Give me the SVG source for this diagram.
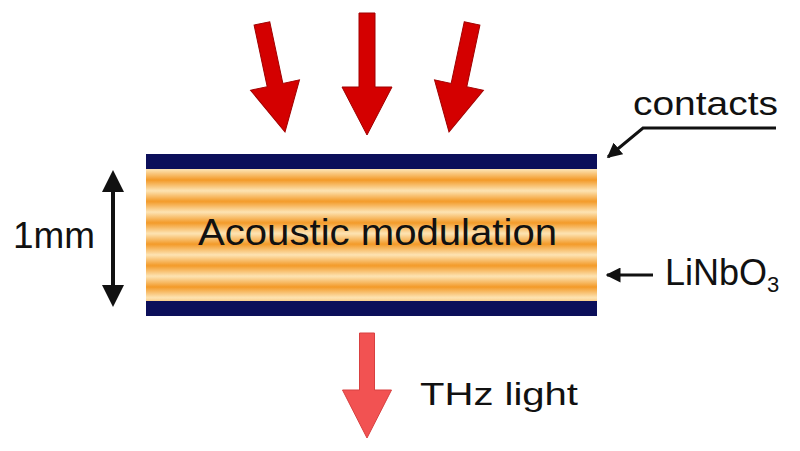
<svg xmlns="http://www.w3.org/2000/svg" width="800" height="451" viewBox="0 0 800 451">
<style>
text{font-family:"Liberation Sans",Arial,sans-serif;fill:#111}
.red{fill:#d40000;stroke:#a00000;stroke-width:1}
.pink{fill:#f25252;stroke:#d84040;stroke-width:1}
.bar{fill:#0c0f5a}
.lead{fill:none;stroke:#111;stroke-width:3}
.head{fill:#111}
</style>
<defs>
<linearGradient id="sg" x1="0" y1="0" x2="0" y2="1">
<stop offset="0" stop-color="#fde4b4"/>
<stop offset="0.5" stop-color="#f39a28"/>
<stop offset="1" stop-color="#fde4b4"/>
</linearGradient>
<pattern id="stripes" patternUnits="userSpaceOnUse" x="0" y="169.3" width="800" height="21.4">
<rect x="0" y="0" width="800" height="21.4" fill="url(#sg)"/>
</pattern>
<marker id="ah" viewBox="0 0 10 10" refX="9" refY="5" markerWidth="5" markerHeight="5" orient="auto-start-reverse" markerUnits="strokeWidth">
<path d="M0,0 L10,5 L0,10 Z" fill="#111"/>
</marker>
</defs>
<g id="incident-light">
<path class="red" transform="translate(367,135)" d="M-8,-122 L8,-122 L8,-48 L25,-48 L0,0 L-25,-48 L-8,-48 Z"/>
<path class="red" transform="translate(285,132) rotate(-12)" d="M-8,-111 L8,-111 L8,-48 L25,-48 L0,0 L-25,-48 L-8,-48 Z"/>
<path class="red" transform="translate(449,132) rotate(12)" d="M-8,-111 L8,-111 L8,-48 L25,-48 L0,0 L-25,-48 L-8,-48 Z"/>
</g>
<g id="crystal">
<rect x="146" y="168" width="451" height="134" fill="url(#stripes)"/>
<rect class="bar" x="146" y="154" width="451" height="15"/>
<rect class="bar" x="146" y="301" width="451" height="15"/>
<text x="198" y="245" font-size="37" textLength="359" lengthAdjust="spacingAndGlyphs">Acoustic modulation</text>
</g>
<g id="thz-light">
<path class="pink" transform="translate(367,438)" d="M-7.5,-105 L7.5,-105 L7.5,-48 L24.5,-48 L0,0 L-24.5,-48 L-7.5,-48 Z"/>
<text x="420" y="405" font-size="31" textLength="158" lengthAdjust="spacingAndGlyphs">THz light</text>
</g>
<g id="thickness">
<text x="13" y="248" font-size="36" textLength="82" lengthAdjust="spacingAndGlyphs">1mm</text>
</g>
<g id="contacts-label">
<text x="633" y="115" font-size="33" textLength="145" lengthAdjust="spacingAndGlyphs">contacts</text>
</g>
<g id="linbo3-label">
<text x="665" y="285" font-size="36">LiNbO<tspan font-size="22" dy="7">3</tspan></text>
</g>
<g id="connectors">
<line x1="113" y1="186" x2="113" y2="291" stroke="#111" stroke-width="4"/>
<path class="head" d="M113,170 L124,192 L102,192 Z"/>
<path class="head" d="M113,307 L124,285 L102,285 Z"/>
<polyline class="lead" points="776,128 643,128 608,157" marker-end="url(#ah)"/>
<line class="lead" x1="653" y1="275" x2="607" y2="275" marker-end="url(#ah)"/>
</g>
</svg>
